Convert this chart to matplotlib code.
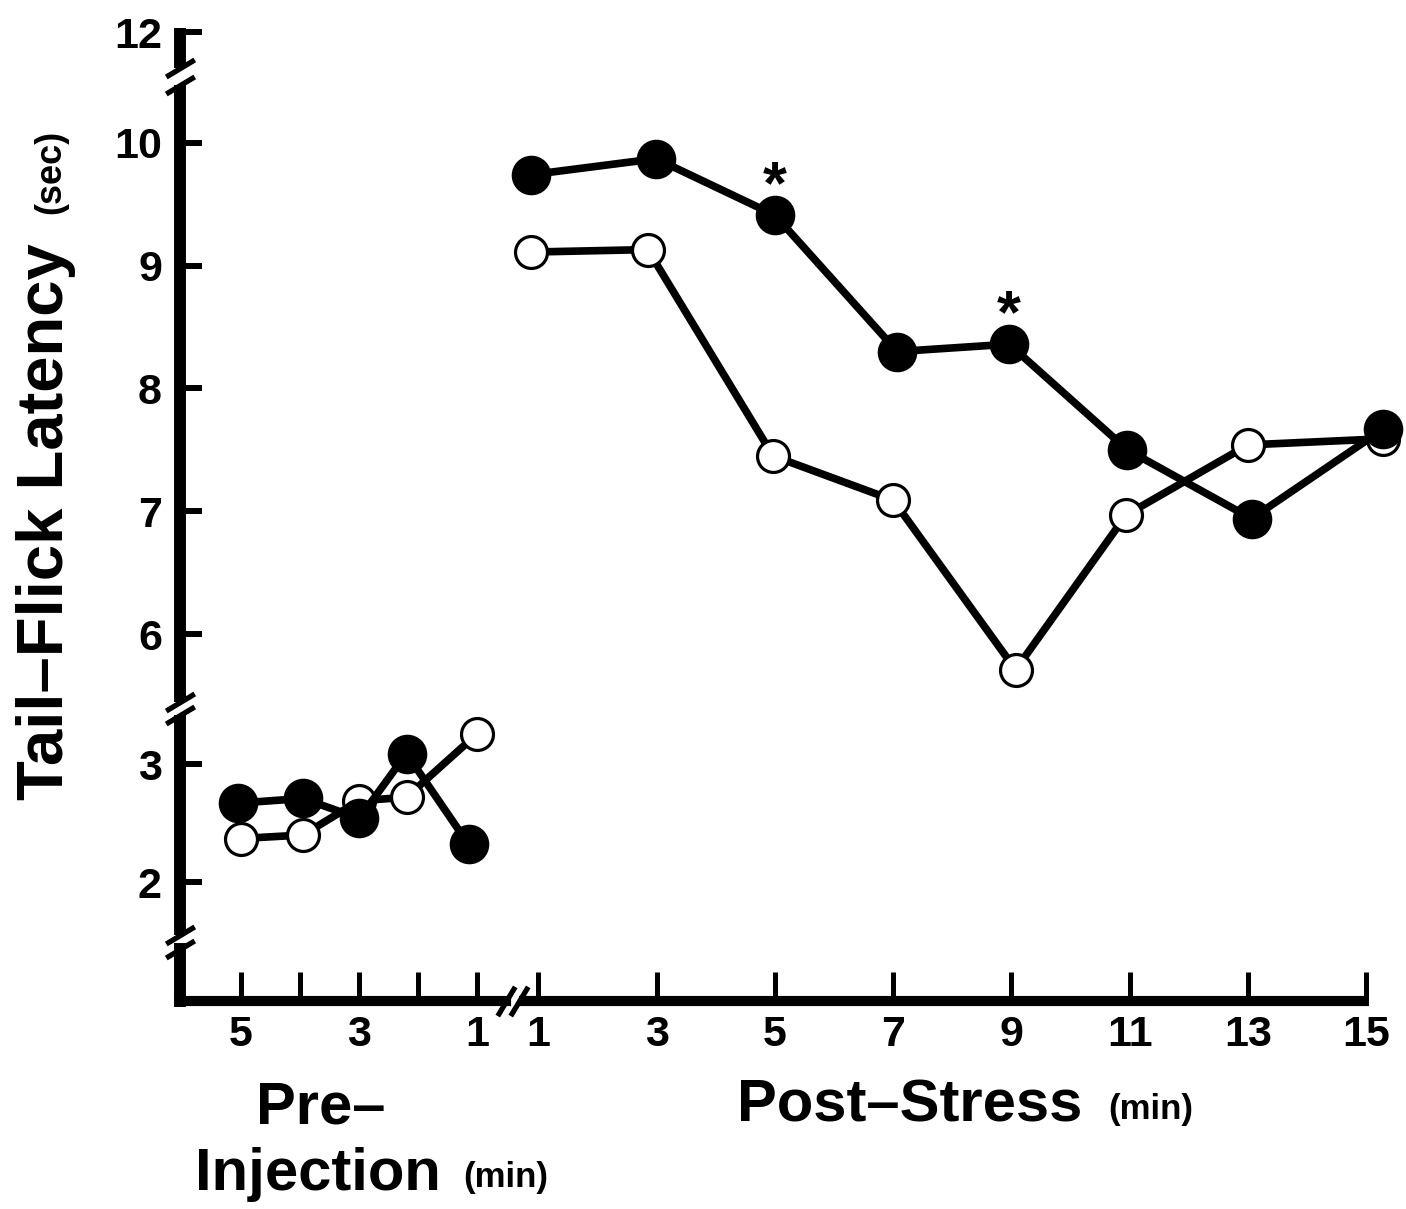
import numpy as np
import matplotlib
matplotlib.use("Agg")
import matplotlib.pyplot as plt

plt.rcParams['font.family'] = ['Liberation Sans', 'DejaVu Sans']
plt.rcParams['font.weight'] = 'bold'

# ---------------- data ----------------
pre_ticks = [5, 4, 3, 2, 1]
pre_ticklabels = ['5', '', '3', '', '1']
post_ticks = [1, 3, 5, 7, 9, 11, 13, 15]
post_ticklabels = ['1', '3', '5', '7', '9', '11', '13', '15']
y_ticks = [2, 3, 6, 7, 8, 9, 10, 12]
y_ticklabels = ['2', '3', '6', '7', '8', '9', '10', '12']

# pre-injection (minutes before injection)
pre_x_filled = [5.05, 3.95, 3.0, 2.2, 1.15]
pre_y_filled = [2.67, 2.71, 2.54, 3.09, 2.32]
pre_x_open = [5.0, 3.95, 3.0, 2.2, 1.0]
pre_y_open = [2.37, 2.40, 2.69, 2.72, 3.26]

# post-stress (minutes after stress)
post_x_filled = [0.88, 2.99, 5.0, 7.07, 8.96, 10.96, 13.06, 15.29]
post_y_filled = [9.74, 9.87, 9.41, 8.30, 8.36, 7.50, 6.94, 7.67]
post_x_open = [0.88, 2.85, 4.97, 7.0, 9.07, 10.94, 13.0, 15.29]
post_y_open = [9.11, 9.13, 7.45, 7.09, 5.71, 6.97, 7.54, 7.59]

sig_index = [2, 4]   # filled points marked with an asterisk (5 and 9 min)

# ---------------- layout helpers ----------------
W, H = 1406, 1209
PRE_SHIFT = 0.97          # pre-injection minute m sits at x = PRE_SHIFT - m


def pre_pos(m):
    return PRE_SHIFT - np.asarray(m, dtype=float)


# broken (piecewise linear) y scale
Y_KNOTS = [0.9, 3.46, 5.39, 10.47, 11.68, 12.0, 12.5]
V_KNOTS = [-1011.8, -710.0, -709.0, -85.0, -70.0, -32.0, 28.0]


def fwd(y):
    return np.interp(y, Y_KNOTS, V_KNOTS)


def inv(v):
    return np.interp(v, V_KNOTS, Y_KNOTS)


XMIN, XMAX = -5.06, 15.6
YMIN, YMAX = 0.99, 12.0

fig = plt.figure(figsize=(W / 100, H / 100), dpi=100)
ax = fig.add_axes([180 / W, 1 - 1001.2 / H, 1221.8 / W, (1001.2 - 32) / H])
ax.set_yscale('function', functions=(fwd, inv))
ax.set_xlim(XMIN, XMAX)
ax.set_ylim(YMIN, YMAX)
for s in ax.spines.values():
    s.set_visible(False)

# ---------------- data series ----------------
LW = 5.5
common_open = dict(color='black', lw=LW, marker='o', ms=23, mfc='white',
                   mec='black', mew=2.3, zorder=3, clip_on=False)
common_fill = dict(color='black', lw=LW, marker='o', ms=27.5, mfc='black',
                   mec='black', mew=1, zorder=4, clip_on=False)
ax.plot(pre_pos(pre_x_open), pre_y_open, **common_open)
ax.plot(post_x_open, post_y_open, **common_open)
ax.plot(pre_pos(pre_x_filled), pre_y_filled, **common_fill)
ax.plot(post_x_filled, post_y_filled, **common_fill)

for i in sig_index:
    ax.annotate('*', (post_x_filled[i], post_y_filled[i]), xytext=(0, 20),
                textcoords='offset points', ha='center', va='center',
                fontsize=44, zorder=5)

# ---------------- axes with breaks ----------------
AX_LW = 8.6
y_segments = [(12.03, 11.7), (10.5, 5.45), (3.42, 1.55), (1.43, YMIN)]
for k, (a, b) in enumerate(y_segments):
    ax.plot([XMIN, XMIN], [a, b], color='black', lw=AX_LW, clip_on=False,
            solid_capstyle='projecting' if k == len(y_segments) - 1 else 'butt',
            zorder=2)
x_segments = [(XMIN, 0.45), (0.68, 15.05)]
for k, (a, b) in enumerate(x_segments):
    ax.plot([a, b], [YMIN, YMIN], color='black', lw=AX_LW * 0.85, clip_on=False,
            solid_capstyle='projecting' if k == 0 else 'butt', zorder=2)

y_break_marks = [11.7, 10.5, 5.45, 3.42, 1.55, 1.43]
ax.plot([XMIN] * len(y_break_marks), y_break_marks, ls='none',
        marker=[(-1, -0.6), (1, 0.6)], ms=20.5, mew=3.8, mec='black',
        mfc='none', clip_on=False, zorder=2)
x_break_marks = [0.45, 0.68]
ax.plot(x_break_marks, [YMIN] * len(x_break_marks), ls='none',
        marker=[(-0.6, -1), (0.6, 1)], ms=21, mew=3.8, mec='black',
        mfc='none', clip_on=False, zorder=2)

# ---------------- ticks ----------------
ax.set_xticks(list(pre_pos(pre_ticks)) + post_ticks)
ax.set_xticklabels(pre_ticklabels + post_ticklabels)
ax.set_yticks(y_ticks)
ax.set_yticklabels(y_ticklabels)
ax.minorticks_off()
ax.tick_params(axis='x', direction='in', length=21, width=3.6, pad=10,
               labelsize=31, color='black')
ax.tick_params(axis='y', direction='in', length=16, width=4.3, pad=13,
               labelsize=31, color='black')
for lab in ax.get_xticklabels() + ax.get_yticklabels():
    lab.set_fontweight('bold')

# ---------------- labels ----------------
fig.text(63 / W, 1 - 800 / H, 'Tail\u2013Flick Latency', rotation=90,
         rotation_mode='anchor', ha='left', va='baseline', fontsize=47,
         fontweight='bold')
fig.text(60 / W, 1 - 214 / H, '(sec)', rotation=90, rotation_mode='anchor',
         ha='left', va='baseline', fontsize=26, fontweight='bold')

fig.text(737 / W, 1 - 1122 / H, 'Post\u2013Stress', ha='left', va='baseline',
         fontsize=43, fontweight='bold')
fig.text(1108 / W, 1 - 1119 / H, '(min)', ha='left', va='baseline',
         fontsize=25, fontweight='bold')
fig.text(256 / W, 1 - 1124 / H, 'Pre\u2013', ha='left', va='baseline',
         fontsize=43, fontweight='bold')
fig.text(195 / W, 1 - 1190 / H, 'Injection', ha='left', va='baseline',
         fontsize=43, fontweight='bold')
fig.text(463 / W, 1 - 1187 / H, '(min)', ha='left', va='baseline',
         fontsize=25, fontweight='bold')

fig.savefig('out.png', dpi=100, facecolor='white')
